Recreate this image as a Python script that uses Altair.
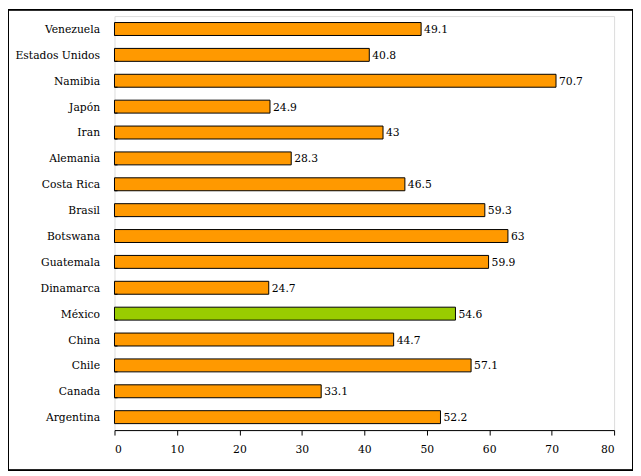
import altair as alt
import pandas as pd

countries = ["Venezuela", "Estados Unidos", "Namibia", "Japón", "Iran", "Alemania",
             "Costa Rica", "Brasil", "Botswana", "Guatemala", "Dinamarca", "México",
             "China", "Chile", "Canada", "Argentina"]
values = [49.1, 40.8, 70.7, 24.9, 43, 28.3, 46.5, 59.3, 63, 59.9, 24.7, 54.6,
          44.7, 57.1, 33.1, 52.2]
highlight = "México"

df = pd.DataFrame({"pais": countries, "valor": values})
df["grupo"] = ["hl" if c == highlight else "base" for c in countries]

FONT = "DejaVu Serif Condensed"
FS = 12

yscale = alt.Scale(paddingInner=0.5, paddingOuter=0.25)
y = alt.Y("pais:N", sort=countries, title=None, scale=yscale,
          axis=alt.Axis(domain=False, ticks=False, labelPadding=15, labelFont=FONT,
                        labelFontSize=FS, labelColor="black"))
x = alt.X("valor:Q", title=None,
          scale=alt.Scale(domain=[0, 80], nice=False),
          axis=alt.Axis(values=list(range(0, 81, 10)), grid=False, tickSize=5,
                        tickColor="black", domainColor="black", labelPadding=9,
                        labelFont=FONT, labelFontSize=FS, labelColor="black"))

bars = alt.Chart(df).mark_bar(stroke="black", strokeWidth=1).encode(
    x=x, y=y,
    color=alt.Color("grupo:N", scale=alt.Scale(domain=["base", "hl"],
                                               range=["#FF9900", "#99CC00"]),
                    legend=None),
)

ticks = alt.Chart(df).transform_filter(
    alt.datum.pais != countries[0]
).mark_rule(color="black", strokeWidth=1).encode(
    y=alt.Y("pais:N", sort=countries),
    yOffset=alt.value(-13),
    x=alt.value(0), x2=alt.value(3),
)

labels = alt.Chart(df).mark_text(align="left", baseline="middle", dx=3,
                                 font=FONT, fontSize=FS, color="black").encode(
    x="valor:Q", y=alt.Y("pais:N", sort=countries),
    text=alt.Text("valor:Q"),
)

frame = alt.Chart(df).mark_rect(fill=None, stroke="black", strokeWidth=1).encode(
    x=alt.value(-106.5), x2=alt.value(520.5),
    y=alt.value(-6.5), y2=alt.value(456.5),
)

chart = alt.layer(frame, bars, ticks, labels).properties(
    width=502, height=416,
    autosize=alt.AutoSizeParams(type="none"),
    padding={"left": 107, "top": 7, "right": 19, "bottom": 41},
    background="white",
).configure_view(stroke="black", strokeWidth=1).configure(font=FONT)

chart.save("out.html", embed_options={"renderer": "svg", "actions": False})
